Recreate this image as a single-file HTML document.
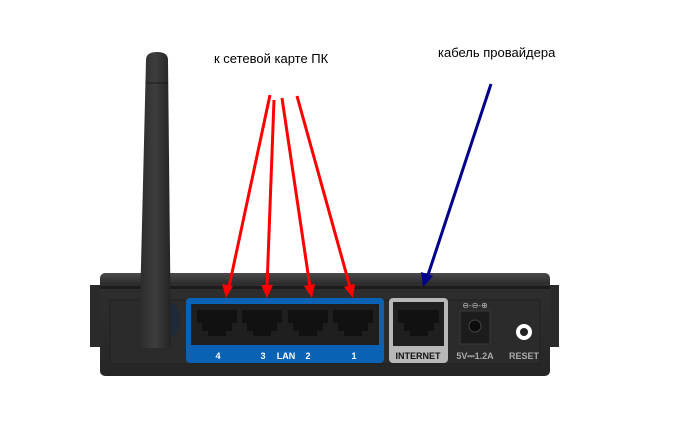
<!DOCTYPE html>
<html><head><meta charset="utf-8"><style>
html,body{margin:0;padding:0;background:#fff;width:690px;height:424px;overflow:hidden;font-family:"Liberation Sans","DejaVu Sans",sans-serif}
</style></head><body>
<svg width="690" height="424" viewBox="0 0 690 424" xmlns="http://www.w3.org/2000/svg">
<defs>
<linearGradient id="body" x1="0" y1="0" x2="0" y2="1">
<stop offset="0" stop-color="#4a4a4a"/><stop offset="0.1" stop-color="#2e2e2e"/><stop offset="1" stop-color="#262626"/>
</linearGradient>
<linearGradient id="ant" x1="0" y1="0" x2="1" y2="0">
<stop offset="0" stop-color="#2a2a2a"/><stop offset="0.5" stop-color="#3e3e3e"/><stop offset="1" stop-color="#232323"/>
</linearGradient>
</defs>
<!-- side flaps -->
<rect x="90" y="285" width="15" height="62" fill="#2a2a2a"/>
<rect x="545" y="285" width="14" height="62" fill="#2a2a2a"/>
<!-- body -->
<rect x="100" y="273" width="450" height="103" rx="5" fill="url(#body)"/>
<rect x="100" y="286" width="450" height="3" fill="#1c1c1c"/>
<rect x="110" y="300" width="430" height="64" fill="#2b2b2b" stroke="#222" />
<!-- knob -->
<ellipse cx="170" cy="320" rx="10" ry="17" fill="#1e2a3a"/>
<!-- antenna -->
<path d="M146,60 Q146,52 157,52 Q168,52 168,60 L171,348 L139,348 Z" fill="url(#ant)"/>
<line x1="146" y1="83" x2="168" y2="83" stroke="#1a1a1a" stroke-width="1"/>
<!-- LAN panel -->
<rect x="186" y="298" width="198" height="65" rx="4" fill="#0a62b5"/>
<rect x="191" y="304" width="188" height="41" fill="#1f1f1f"/>
<g fill="#111">
<path d="M197,310 h40 v13 h-5 v8 h-6 v5 h-18 v-5 h-6 v-8 h-5z"/>
<path d="M242,310 h40 v13 h-5 v8 h-6 v5 h-18 v-5 h-6 v-8 h-5z"/>
<path d="M288,310 h40 v13 h-5 v8 h-6 v5 h-18 v-5 h-6 v-8 h-5z"/>
<path d="M333,310 h40 v13 h-5 v8 h-6 v5 h-18 v-5 h-6 v-8 h-5z"/>
</g>
<g fill="#fff" font-size="9" font-weight="bold" text-anchor="middle">
<text x="218" y="359">4</text><text x="263" y="359">3</text><text x="286" y="359">LAN</text><text x="308" y="359">2</text><text x="354" y="359">1</text>
</g>
<!-- internet -->
<rect x="389" y="298" width="59" height="65" rx="4" fill="#b8b8b8"/>
<rect x="393" y="302" width="51" height="44" fill="#1f1f1f"/>
<path d="M398,310 h41 v13 h-5 v8 h-6 v5 h-18 v-5 h-6 v-8 h-6z" fill="#111"/>
<text x="418" y="359" fill="#111" font-size="9" font-weight="bold" text-anchor="middle">INTERNET</text>
<!-- power -->
<text x="475" y="308" fill="#bbb" font-size="8" text-anchor="middle">⊖-⊖-⊕</text>
<rect x="460" y="311" width="30" height="33" fill="#1c1c1c" stroke="#3a3a3a"/>
<circle cx="475" cy="326" r="6" fill="#0c0c0c" stroke="#444"/>
<text x="475" y="359" fill="#aaa" font-size="9" font-weight="bold" text-anchor="middle">5V⎓1.2A</text>
<circle cx="524" cy="332" r="8" fill="#fff"/><circle cx="524" cy="332" r="4" fill="#222"/>
<text x="524" y="359" fill="#aaa" font-size="9" font-weight="bold" text-anchor="middle">RESET</text>
<!-- labels -->
<text x="214" y="63" font-size="13" fill="#000">к сетевой карте ПК</text>
<text x="438" y="57" font-size="13" fill="#000">кабель провайдера</text>
<!-- arrows -->
<g stroke="#f00" stroke-width="3" fill="none">
<line x1="270" y1="95" x2="229" y2="287"/>
<line x1="274" y1="100" x2="267" y2="287"/>
<line x1="282" y1="98" x2="310" y2="287"/>
<line x1="297" y1="96" x2="350" y2="287"/>
</g>
<g fill="#f00">
<polygon points="226,298 222,284 233,286"/>
<polygon points="267,298 261,285 273,285"/>
<polygon points="312,298 304,286 315,284"/>
<polygon points="353,298 344,287 355,284"/>
</g>
<line x1="491" y1="84" x2="428" y2="275" stroke="#00008b" stroke-width="3"/>
<polygon points="423,287 421,272 433,276" fill="#00008b"/>
</svg>
</body></html>
